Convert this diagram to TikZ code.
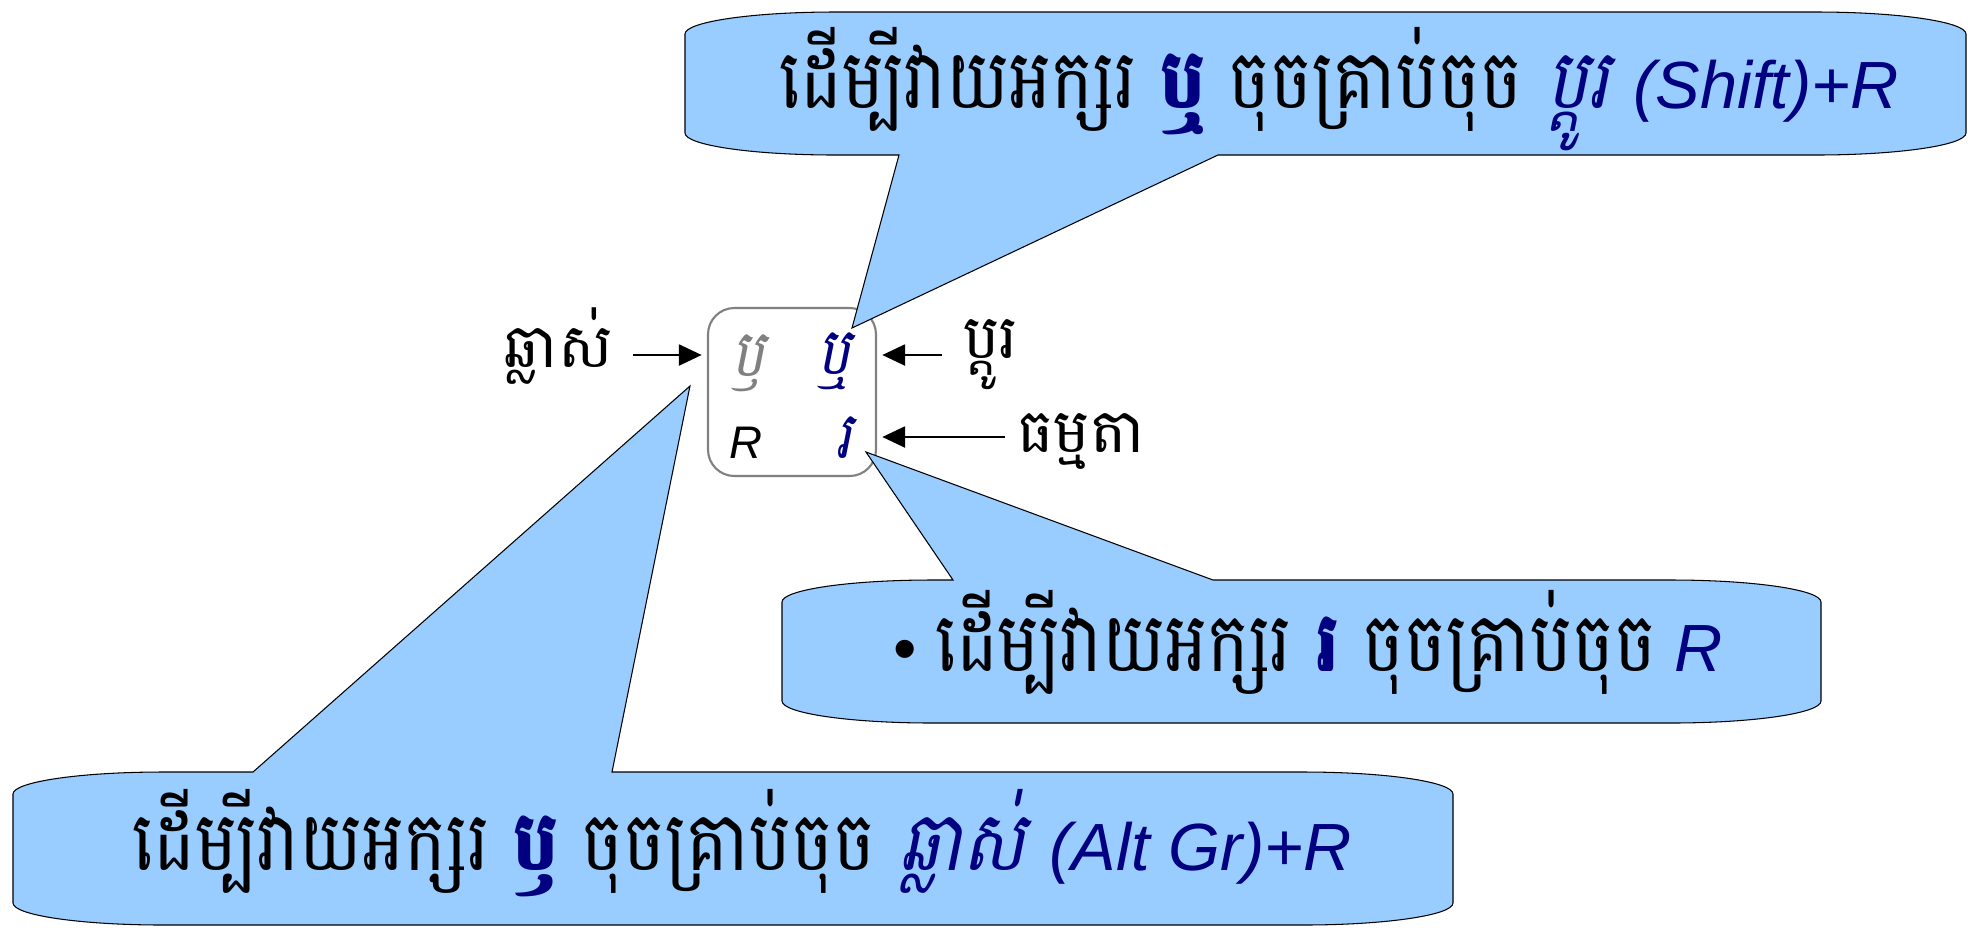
\documentclass[tikz,border=0pt]{standalone}
\usepackage{fontspec}
\usepackage{xcolor}
\usepackage{tikz}
\usetikzlibrary{arrows.meta}
\setmainfont{Liberation Sans}
\newfontfamily\khmer[Script=Khmer,Scale=1.24,FakeStretch=0.85]{Battambang}
\newfontfamily\khmerslant[Script=Khmer,Scale=1.24,FakeStretch=0.85,FakeSlant=0.2]{Battambang}
\newfontfamily\khmerlabel[Script=Khmer,Scale=1.24]{Battambang}
\definecolor{calloutblue}{HTML}{99CCFF}
\definecolor{keynavy}{HTML}{000080}
\definecolor{keygrey}{HTML}{808080}

\begin{document}
\begin{tikzpicture}[scale=0.2]
                \tikzstyle{every node}+=[inner sep=0pt]
                \tikzstyle{balloon}=[fill=calloutblue, draw=black, line width=0.6pt]
                \tikzstyle{balloontext}=[anchor=base, font=\fontsize{38}{46}\selectfont]
                \tikzstyle{keycap}=[draw=keygrey, line width=1.2pt, rounded corners=15pt, minimum width=95.6pt, minimum height=95.6pt]
                \tikzstyle{keyglyph}=[font=\khmerslant\fontsize{30}{34}\selectfont]
                \tikzstyle{keylabel}=[font=\khmerlabel\fontsize{28}{34}\selectfont]
                \tikzstyle{keyarrow}=[-{Triangle[length=13pt,width=12pt]}, line width=1.2pt, shorten >=3pt]
                \useasboundingbox (0,0) rectangle (196.8,-92.7);
                % the key
                \node [keycap] (key) at (79.2,-39.2) {};
                \node [keyglyph, text=keygrey] (altglyph) at (74.8,-36.3) {ឫ};
                \node [keyglyph, text=keynavy] (shiftglyph) at (83.4,-36.1) {ឬ};
                \node [font=\itshape\fontsize{26}{30}\selectfont] (plainglyph) at (74.6,-44.3) {R};
                \node [keyglyph, text=keynavy] (baseglyph) at (84.4,-43.8) {រ};
                % labels round the key
                \coordinate (toprow) at (0,-35.5);
                \coordinate (btmrow) at (0,-43.7);
                \node [keylabel, inner xsep=11.4pt, anchor=base east] (altlabel) at (63.3,-36.7) {ឆ្លាស់};
                \node [keylabel, inner xsep=12pt, anchor=base west] (shiftlabel) at (94.2,-35.8) {ប្តូរ};
                \node [keylabel, inner xsep=6.8pt, anchor=base west] (normallabel) at (100.5,-45.2) {ធម្មតា};
                \draw [keyarrow] (altlabel.east |- toprow) -- (key.west |- toprow);
                \draw [keyarrow] (shiftlabel.west |- toprow) -- (key.east |- toprow);
                \draw [keyarrow] (normallabel.west |- btmrow) -- (key.east |- btmrow);
                % tips of the balloons
                \coordinate (shifttip) at (85.2,-32.8);
                \coordinate (basetip) at (86.6,-45.2);
                \coordinate (alttip) at (69.0,-38.6);
                % top balloon
                \draw [balloon] (68.5,-3.4) arc [start angle=180, end angle=90, x radius=15, y radius=2.2]
                    -- (181.6,-1.2) arc [start angle=90, end angle=0, x radius=15, y radius=2.2]
                    -- (196.6,-13.3) arc [start angle=0, end angle=-90, x radius=15, y radius=2.2]
                    -- (121.8,-15.5) -- (shifttip) -- (89.9,-15.5)
                    -- (83.5,-15.5) arc [start angle=270, end angle=180, x radius=15, y radius=2.2] -- cycle;
                \node [balloontext] (shifttext) at (133.9,-10.8) {\khmer ដើម្បីវាយអក្សរ {\color{keynavy}\bfseries ឬ} ចុចគ្រាប់ចុច {\color{keynavy}\khmerslant ប្តូរ {\normalfont\itshape (Shift)+R}}};
                % middle balloon
                \draw [balloon] (78.2,-60.2) arc [start angle=180, end angle=90, x radius=15, y radius=2.2]
                    -- (95.3,-58.0) -- (basetip) -- (121.3,-58.0)
                    -- (167.1,-58.0) arc [start angle=90, end angle=0, x radius=15, y radius=2.2]
                    -- (182.1,-70.1) arc [start angle=0, end angle=-90, x radius=15, y radius=2.2]
                    -- (93.2,-72.3) arc [start angle=270, end angle=180, x radius=15, y radius=2.2] -- cycle;
                \node [balloontext] (basetext) at (130.8,-67.1) {• {\khmer ដើម្បីវាយអក្សរ {\color{keynavy}\bfseries រ} ចុចគ្រាប់ចុច} {\color{keynavy}\itshape R}};
                % bottom balloon
                \draw [balloon] (1.3,-79.4) arc [start angle=180, end angle=90, x radius=15, y radius=2.2]
                    -- (25.3,-77.2) -- (alttip) -- (61.2,-77.2)
                    -- (130.3,-77.2) arc [start angle=90, end angle=0, x radius=15, y radius=2.2]
                    -- (145.3,-90.3) arc [start angle=0, end angle=-90, x radius=15, y radius=2.2]
                    -- (16.3,-92.5) arc [start angle=270, end angle=180, x radius=15, y radius=2.2] -- cycle;
                \node [balloontext] (alttext) at (74.2,-87.0) {\khmer ដើម្បីវាយអក្សរ {\color{keynavy}\bfseries ឫ} ចុចគ្រាប់ចុច {\color{keynavy}\khmerslant ឆ្លាស់ {\normalfont\itshape (Alt Gr)+R}}};
\end{tikzpicture}
\end{document}
